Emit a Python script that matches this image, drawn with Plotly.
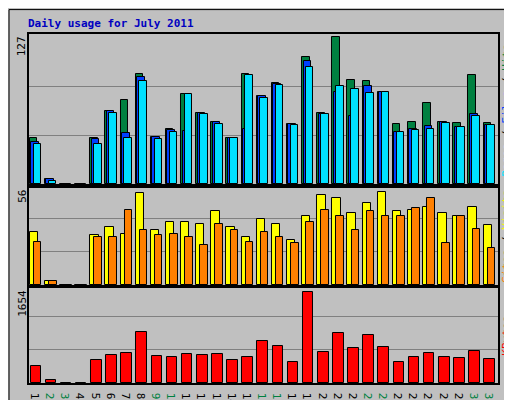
import plotly.graph_objects as go
from plotly.subplots import make_subplots

days = list(range(1, 32))
weekend = [2, 3, 9, 10, 16, 17, 23, 24, 30, 31]

hits = [40, 4, 0, 0, 39.5, 63.5, 72.5, 95, 41, 47.4, 77.7, 61.5, 54, 40, 95.4, 76,
        87.8, 52, 110, 61.5, 127, 90, 89.5, 80, 52, 54, 70, 54, 53, 94.6, 53]
files = [36, 4, 0, 0, 39, 63, 44.6, 93, 41, 47, 46, 61.5, 54, 40, 48, 76,
         87, 52, 107, 61, 80, 59, 85, 80, 45.5, 48, 50.5, 54, 49, 60.7, 51.4]
pages = [35, 3, 0, 0, 35, 61.5, 40, 89, 38.7, 45.5, 77.7, 60.7, 52, 40, 94.6, 74.3,
         86, 51.4, 101, 60.7, 85, 82.7, 78.5, 80, 45.5, 47, 48, 53, 49, 59, 51.4]
visits = [30, 2.3, 0, 0, 28.3, 32.8, 28.9, 51.7, 31, 35.6, 35.6, 34.5, 41.3, 32.8, 27, 37.3,
          34.5, 25.5, 38.5, 50.4, 48.7, 40.2, 45.8, 52, 41.3, 41.9, 44.1, 40.2, 39, 44.1, 33.9]
sites = [24.3, 2.3, 0, 0, 27, 27, 41.9, 31, 28.3, 28.9, 27, 22.6, 34.5, 31, 24.3, 30,
         27, 23.8, 35.6, 41.9, 38.5, 31, 41.3, 38.5, 39, 43, 48.7, 23.8, 39, 31.7, 20.9]
kbytes = [284, 50, 0, 0, 384, 468, 501, 852, 451, 434, 485, 468, 485, 384, 434, 702,
          618, 351, 1521, 518, 836, 585, 802, 602, 351, 434, 501, 434, 418, 535, 401]

bg = "#C0C0C0"
mono = "DejaVu Sans Mono"

fig = make_subplots(rows=3, cols=1, shared_xaxes=True)

def bars(y, color, off, row, w=0.5):
    fig.add_trace(go.Bar(x=days, y=y, marker=dict(color=color, line=dict(color="black", width=1)),
                         offset=off, width=w, showlegend=False), row=row, col=1)

bars(hits, "#008040", -0.45, 1)
bars(files, "#0040FF", -0.35, 1)
bars(pages, "#00E0FF", -0.2, 1)
bars(visits, "#FFFF00", -0.45, 2, 0.55)
bars(sites, "#FF8000", -0.18, 2, 0.5)
bars(kbytes, "#FF0000", -0.4, 3, 0.7)

fig.update_layout(
    width=512, height=400, margin=dict(l=0, r=0, t=0, b=0),
    paper_bgcolor=bg, plot_bgcolor=bg, barmode="overlay", bargap=0,
    font=dict(family=mono, size=11, color="black"),
    yaxis=dict(domain=[0.56, 0.935], range=[0, 130], tickvals=[42.3, 84.7]),
    yaxis2=dict(domain=[0.3075, 0.55], range=[0, 54.5], tickvals=[18.67, 37.3]),
    yaxis3=dict(domain=[0.0625, 0.3], range=[0, 1582], tickvals=[551, 1103]),
)
for i in (1, 2, 3):
    fig.update_yaxes(row=i, col=1, showticklabels=False, gridcolor="#808080", gridwidth=1,
                     showline=True, linecolor="black", linewidth=2, mirror=True, zeroline=False)
    fig.update_xaxes(row=i, col=1, domain=[0.041, 0.957], range=[0.5, 31.5], showgrid=False,
                     showline=True, linecolor="black", linewidth=2, mirror=True, ticks="")
ticktext = [f"<span style='color:#008040'>{d}</span>" if d in weekend else str(d) for d in days]
fig.update_xaxes(row=3, col=1, tickvals=days, ticktext=ticktext, tickfont=dict(size=11))

ann = [
    dict(x=0.035, y=0.962, text="<b>Daily usage for July 2011</b>", font=dict(color="#0000C0", size=11),
         xanchor="left", yanchor="middle", textangle=0),
    dict(x=0.028, y=0.935, text="127", textangle=-90, xanchor="center", yanchor="top"),
    dict(x=0.028, y=0.55, text="56", textangle=-90, xanchor="center", yanchor="top"),
    dict(x=0.028, y=0.3, text="1654", textangle=-90, xanchor="center", yanchor="top"),
    dict(x=0.972, y=0.745, textangle=-90, xanchor="center", yanchor="middle",
         text="<span style='color:#00E0FF'>Pages</span> / <span style='color:#0040FF'>Files</span>"
              " / <span style='color:#008040'>Hits</span>"),
    dict(x=0.972, y=0.43, textangle=-90, xanchor="center", yanchor="middle",
         text="<span style='color:#FF8000'>Sites</span> / <span style='color:#FFFF00'>Visits</span>"),
    dict(x=0.972, y=0.18, textangle=-90, xanchor="center", yanchor="middle",
         text="<span style='color:#FF0000'>KBytes</span>"),
]
for a in ann:
    fig.add_annotation(xref="paper", yref="paper", showarrow=False, **a)

# outer bevel frame
fig.add_shape(type="rect", xref="paper", yref="paper", x0=0.984, x1=1, y0=0, y1=1,
              fillcolor="#808080", line=dict(width=0), layer="below")
fig.add_shape(type="rect", xref="paper", yref="paper", x0=0.002, x1=0.982, y0=0.006, y1=0.996,
              line=dict(color="black", width=1), fillcolor="rgba(0,0,0,0)")

fig.write_html("out.html")
